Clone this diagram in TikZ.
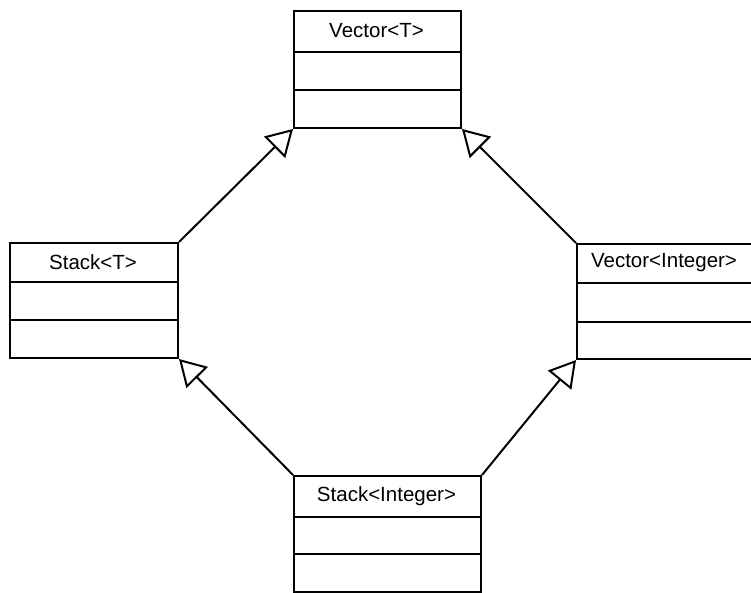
\documentclass[tikz,border=0pt]{standalone}
\usepackage{fontspec}
\setmainfont{Liberation Sans}
\usetikzlibrary{arrows.meta}
\tikzset{
  classname/.style={font=\fontsize{20.5}{22}\selectfont, inner sep=0pt, anchor=center},
  classframe/.style={draw, line width=2pt, inner sep=0pt, anchor=north west},
  divider/.style={line width=2pt},
  inherit/.style={line width=2pt, -{Triangle[open, length=26pt, width=30pt, line width=2pt]}}
}
\begin{document}
\begin{tikzpicture}[x=1pt, y=-1pt]
\useasboundingbox (0,0) rectangle (751,593);
\begin{scope}
\clip (0,0) rectangle (751,593);
% Vector<T>
\node[classframe, minimum width=167pt, minimum height=117pt] (vecT) at (293,10) {};
\draw[divider] (293,52) -- (460,52);
\draw[divider] (293,90) -- (460,90);
\node[classname] (vecTname) at (376.5,31) {Vector<T>};
% Stack<T>
\node[classframe, minimum width=168pt, minimum height=115pt] (stackT) at (9,242) {};
\draw[divider] (9,282) -- (177,282);
\draw[divider] (9,320) -- (177,320);
\node[classname] (stackTname) at (93,262) {Stack<T>};
% Vector<Integer>
\node[classframe, minimum width=178pt, minimum height=115pt] (vecI) at (576,243) {};
\draw[divider] (576,283) -- (754,283);
\draw[divider] (576,322) -- (754,322);
\node[classname] (vecIname) at (664,263) {Vector<Integer>};
% Stack<Integer>
\node[classframe, minimum width=187pt, minimum height=116pt] (stackI) at (293,475) {};
\draw[divider] (293,517) -- (480,517);
\draw[divider] (293,554) -- (480,554);
\node[classname] (stackIname) at (386.5,496) {Stack<Integer>};
% inheritance arrows
\draw[inherit] (stackT.north east) -- (vecT.south west);
\draw[inherit] (vecI.north west) -- (vecT.south east);
\draw[inherit] (stackI.north west) -- (stackT.south east);
\draw[inherit] (stackI.north east) -- (vecI.south west);
\end{scope}
\end{tikzpicture}
\end{document}
